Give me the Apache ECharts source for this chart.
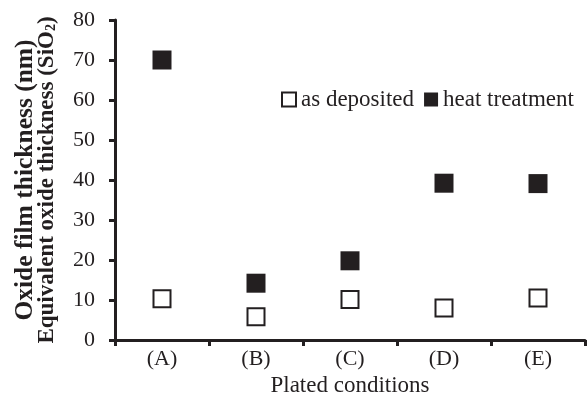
<!DOCTYPE html>
<html>
<head>
<meta charset="utf-8">
<script src="https://cdn.jsdelivr.net/npm/echarts@6/dist/echarts.min.js"></script>
<style>
  html, body { margin: 0; padding: 0; background: #fff; }
  #chart { width: 587px; height: 397px; }
</style>
</head>
<body>
<div id="chart"></div>
<script>
// Plating conditions and measured oxide thicknesses
const categories = ['(A)', '(B)', '(C)', '(D)', '(E)'];
const asDeposited = [10.3, 5.8, 10.1, 8.0, 10.5];
const heatTreatment = [70.0, 14.2, 19.8, 39.2, 39.1];
const yTicks = { min: 0, max: 80, interval: 10 };

const ink = '#231f20';
const serif = '"Liberation Serif", "Times New Roman", serif';

const chart = echarts.init(document.getElementById('chart'));
chart.setOption({
  animation: false,
  backgroundColor: '#fff',
  textStyle: { fontFamily: serif, color: ink },
  grid: { left: 115, right: 2, top: 20, bottom: 57, containLabel: false, outerBoundsMode: 'none' },
  legend: {
    left: 281, top: 88, padding: 0,
    itemWidth: 14, itemHeight: 14, itemGap: 10,
    icon: 'rect',
    textStyle: { fontFamily: serif, fontSize: 23, color: ink },
    data: ['as deposited', 'heat treatment']
  },
  xAxis: {
    type: 'category',
    data: categories,
    boundaryGap: true,
    name: 'Plated conditions',
    nameLocation: 'middle',
    nameGap: 31,
    nameTextStyle: { fontFamily: serif, fontSize: 23, color: ink },
    axisLine: { lineStyle: { color: ink, width: 3 } },
    axisTick: { show: true, inside: false, length: 6, lineStyle: { color: ink, width: 3 } },
    axisLabel: { fontFamily: serif, fontSize: 22, color: ink, margin: 8 },
    splitLine: { show: false }
  },
  yAxis: {
    type: 'value',
    min: yTicks.min, max: yTicks.max, interval: yTicks.interval,
    name: '{t|Oxide film thickness (nm)}\n{b|Equivalent oxide thickness (SiO}{s|2}{b|)}',
    nameLocation: 'middle',
    nameRotate: 90,
    nameGap: 57,
    nameTextStyle: {
      fontFamily: serif, color: ink,
      rich: {
        t: { fontFamily: serif, fontSize: 25.5, fontWeight: 'bold', color: ink, lineHeight: 22 },
        b: { fontFamily: serif, fontSize: 23, fontWeight: 'bold', color: ink, lineHeight: 22 },
        s: { fontFamily: serif, fontSize: 14, fontWeight: 'bold', color: ink, verticalAlign: 'bottom', lineHeight: 10 }
      }
    },
    axisLine: { show: true, lineStyle: { color: ink, width: 3 } },
    axisTick: { show: true, inside: false, length: 6, lineStyle: { color: ink, width: 3 } },
    axisLabel: { fontFamily: serif, fontSize: 22, color: ink, margin: 20 },
    splitLine: { show: false }
  },
  series: [
    {
      name: 'as deposited',
      type: 'scatter',
      symbol: 'rect',
      symbolSize: 17,
      data: asDeposited,
      itemStyle: { color: '#fff', borderColor: ink, borderWidth: 2, opacity: 1 },
      emphasis: { disabled: true }
    },
    {
      name: 'heat treatment',
      type: 'scatter',
      symbol: 'rect',
      symbolSize: 19,
      data: heatTreatment,
      itemStyle: { color: ink, opacity: 1 },
      emphasis: { disabled: true }
    }
  ]
});
</script>
</body>
</html>
